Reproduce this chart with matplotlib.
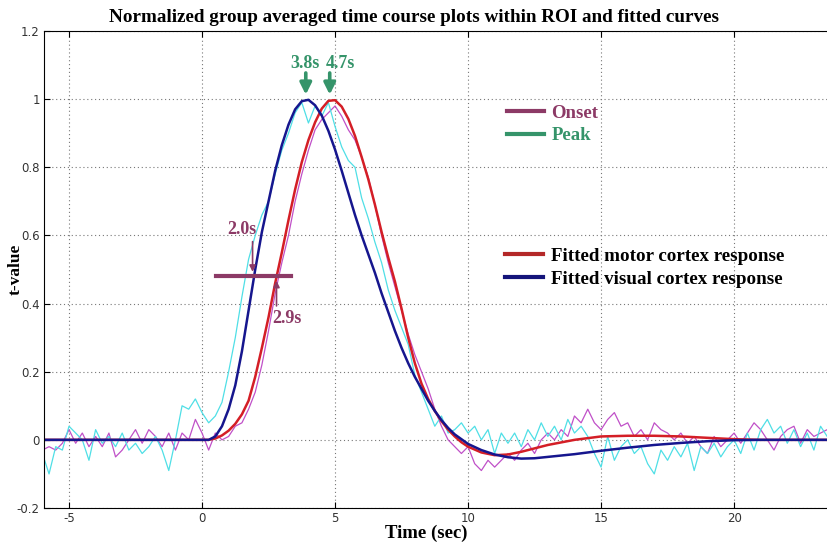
import numpy as np
import matplotlib
matplotlib.use("Agg")
import matplotlib.pyplot as plt
from matplotlib.lines import Line2D

# raw group averaged time courses, sampled every 0.25 s from -6 s
t_raw = np.arange(-6.0, 23.51, 0.25)
visual_raw = [
    -0.04, -0.10, -0.02, -0.03, 0.04, 0.02, 0.00, -0.06,
    0.03, -0.01, 0.01, -0.02, 0.02, -0.03, -0.01, -0.04,
    -0.02, 0.01, -0.03, -0.09, 0.00, 0.10, 0.09, 0.12,
    0.08, 0.05, 0.07, 0.11, 0.20, 0.30, 0.42, 0.53,
    0.60, 0.66, 0.70, 0.78, 0.85, 0.90, 0.96, 0.99,
    0.93, 0.98, 0.95, 0.99, 0.92, 0.86, 0.82, 0.80,
    0.71, 0.65, 0.58, 0.52, 0.44, 0.38, 0.33, 0.28,
    0.19, 0.14, 0.09, 0.04, 0.07, 0.02, 0.03, 0.05,
    0.02, 0.04, 0.00, 0.03, -0.04, 0.02, -0.01, 0.02,
    -0.02, 0.03, 0.00, 0.05, 0.01, 0.04, 0.00, 0.06,
    0.02, 0.04, 0.01, -0.04, -0.08, 0.01, -0.06, -0.02,
    0.00, -0.04, -0.02, -0.07, -0.10, -0.03, -0.06, -0.02,
    -0.05, -0.01, -0.09, -0.02, -0.04, -0.01, -0.05, -0.02,
    0.00, -0.04, 0.02, -0.03, 0.03, 0.06, 0.02, 0.04,
    -0.01, 0.03, -0.02, 0.02, -0.03, 0.04, 0.01,
]
motor_raw = [
    -0.03, -0.02, -0.03, -0.01, 0.03, -0.01, 0.02, -0.02,
    0.01, -0.02, 0.02, -0.05, -0.03, 0.00, 0.03, -0.01,
    0.03, 0.01, -0.02, 0.02, -0.03, 0.02, 0.00, 0.06,
    0.02, -0.03, 0.02, 0.00, 0.01, 0.04, 0.05, 0.09,
    0.14, 0.22, 0.32, 0.43, 0.52, 0.60, 0.70, 0.78,
    0.85, 0.91, 0.94, 0.96, 0.98, 0.95, 0.91, 0.88,
    0.83, 0.77, 0.69, 0.60, 0.52, 0.45, 0.38, 0.31,
    0.25, 0.20, 0.15, 0.09, 0.04, 0.00, -0.02, -0.04,
    -0.02, -0.07, -0.09, -0.06, -0.08, -0.06, -0.04, -0.06,
    -0.03, -0.01, -0.04, 0.00, 0.02, 0.00, 0.03, 0.01,
    0.07, 0.05, 0.09, 0.05, 0.03, 0.06, 0.08, 0.04,
    0.05, 0.01, 0.03, 0.00, 0.05, 0.03, 0.02, 0.00,
    0.02, -0.01, 0.01, -0.02, -0.04, 0.01, -0.02, 0.00,
    0.02, -0.01, 0.02, 0.05, 0.03, 0.00, -0.03, 0.01,
    0.03, 0.04, -0.01, 0.03, 0.01, 0.02, 0.03,
]

# fitted responses
t_fit = [-6.0, 0.25, 0.5, 0.75, 1.0, 1.25, 1.5, 1.75, 2.0, 2.25, 2.5, 2.75,
         3.0, 3.25, 3.5, 3.75, 4.0, 4.25, 4.5, 4.75, 5.0, 5.25, 5.5, 5.75,
         6.0, 6.25, 6.5, 6.75, 7.0, 7.25, 7.5, 7.75, 8.0, 8.25, 8.5, 8.75,
         9.0, 9.25, 9.5, 9.75, 10.0, 10.5, 11.0, 11.5, 12.0, 12.5, 13.0,
         14.0, 15.0, 16.0, 17.0, 18.0, 19.0, 20.0, 21.0, 23.5]
visual_fit = [0.0, 0.0, 0.01, 0.04, 0.09, 0.16, 0.26, 0.38, 0.50, 0.61, 0.70, 0.79,
              0.865, 0.925, 0.97, 0.994, 0.998, 0.982, 0.952, 0.907, 0.852, 0.79, 0.725, 0.66,
              0.60, 0.545, 0.49, 0.43, 0.375, 0.32, 0.27, 0.225, 0.185, 0.15, 0.115, 0.085,
              0.058, 0.035, 0.016, 0.002, -0.012, -0.03, -0.043, -0.051, -0.055, -0.054, -0.05,
              -0.042, -0.032, -0.023, -0.015, -0.009, -0.004, -0.001, 0.0, 0.0]
motor_fit = [0.0, 0.0, 0.004, 0.013, 0.027, 0.047, 0.075, 0.115, 0.185, 0.27, 0.36, 0.46,
             0.55, 0.645, 0.735, 0.815, 0.88, 0.932, 0.972, 0.995, 0.997, 0.978, 0.942, 0.892,
             0.83, 0.765, 0.69, 0.61, 0.535, 0.465, 0.385, 0.30, 0.225, 0.165, 0.12, 0.085,
             0.055, 0.03, 0.01, -0.007, -0.02, -0.037, -0.045, -0.043, -0.035, -0.025, -0.015,
             0.0, 0.01, 0.012, 0.012, 0.01, 0.006, 0.002, 0.0, 0.0]

onset_times = [2.0, 2.9]
onset_level = 0.48
peak_times = [3.8, 4.7]

xticks = [-5, 0, 5, 10, 15, 20]
yticks = [-0.2, 0, 0.2, 0.4, 0.6, 0.8, 1, 1.2]

ONSET = "#8c3a66"
PEAK = "#35946a"
RED = "#d41e26"
NAVY = "#16168e"
SERIF = "Liberation Serif"

fig = plt.figure(figsize=(8.28, 5.42), dpi=100)
ax = fig.add_axes([44 / 828, 34 / 542, 784 / 828, 477 / 542])

ax.plot(t_raw, motor_raw, color="#c050c8", lw=0.9)
ax.plot(t_raw, visual_raw, color="#4fdfe6", lw=0.9)
ax.plot(t_fit, motor_fit, color=RED, lw=1.8)
ax.plot(t_fit, visual_fit, color=NAVY, lw=1.8)

# onset marker
ax.plot([0.52, 3.36], [onset_level, onset_level], color=ONSET, lw=3)
ax.annotate("", xy=(1.9, onset_level + 0.005), xytext=(1.9, 0.59),
            arrowprops=dict(arrowstyle="-|>", color=ONSET, lw=1.2, mutation_scale=9))
ax.annotate("", xy=(2.8, onset_level - 0.005), xytext=(2.8, 0.385),
            arrowprops=dict(arrowstyle="-|>", color=ONSET, lw=1.2, mutation_scale=9))
ax.text(1.49, 0.617, "%.1fs" % onset_times[0], color=ONSET, fontsize=13,
        fontweight="bold", family=SERIF, ha="center", va="center")
ax.text(3.2, 0.357, "%.1fs" % onset_times[1], color=ONSET, fontsize=13,
        fontweight="bold", family=SERIF, ha="center", va="center")

# peak markers
for xa in [3.9, 4.8]:
    ax.annotate("", xy=(xa, 1.005), xytext=(xa, 1.085),
                arrowprops=dict(arrowstyle="-|>", color=PEAK, lw=2.6, mutation_scale=17))
ax.text(3.87, 1.106, "%.1fs" % peak_times[0], color=PEAK, fontsize=13,
        fontweight="bold", family=SERIF, ha="center", va="center")
ax.text(5.19, 1.106, "%.1fs" % peak_times[1], color=PEAK, fontsize=13,
        fontweight="bold", family=SERIF, ha="center", va="center")

ax.set_xlim(-5.94, 23.53)
ax.set_ylim(-0.2, 1.2)
ax.set_xticks(xticks)
ax.set_yticks(yticks)
ax.set_xticklabels(["%g" % v for v in xticks])
ax.set_yticklabels(["%g" % v for v in yticks])
ax.tick_params(direction="in", top=True, length=4, labelsize=8.5,
               labelcolor="#333333")
ax.tick_params(axis="x", pad=3)
ax.tick_params(axis="y", pad=3)
ax.spines["right"].set_visible(False)
ax.grid(True, color="#777777", lw=0.8, linestyle=(0, (1, 2.5)))

leg1 = ax.legend(handles=[Line2D([], [], color=ONSET, lw=3),
                          Line2D([], [], color=PEAK, lw=3)],
                 labels=["Onset", "Peak"], loc="upper left",
                 bbox_to_anchor=(0.59, 0.846), frameon=False, borderpad=0,
                 borderaxespad=0, handlelength=2.0, handletextpad=0.4,
                 labelspacing=0.3, labelcolor=[ONSET, PEAK],
                 prop=dict(family=SERIF, weight="bold", size=13.5))
ax.add_artist(leg1)
ax.legend(handles=[Line2D([], [], color="#b42828", lw=3),
                   Line2D([], [], color="#14147a", lw=3)],
          labels=["Fitted motor cortex response", "Fitted visual cortex response"],
          loc="upper left", bbox_to_anchor=(0.588, 0.546), frameon=False,
          borderpad=0, borderaxespad=0, handlelength=2.0, handletextpad=0.4,
          labelspacing=0.3, prop=dict(family=SERIF, weight="bold", size=13.7))

ax.set_xlabel("Time (sec)", family=SERIF, fontweight="bold", fontsize=13.5)
ax.xaxis.set_label_coords(0.488, -0.035)
ax.set_ylabel("t-value", family=SERIF, fontweight="bold", fontsize=12.5)
ax.yaxis.set_label_coords(-0.026, 0.5)

fig.text(0.5, 0.968, "Normalized group averaged time course plots within ROI and fitted curves",
         family=SERIF, fontweight="bold", fontsize=13.8, ha="center", va="center")

fig.savefig("out.png", dpi=100)
